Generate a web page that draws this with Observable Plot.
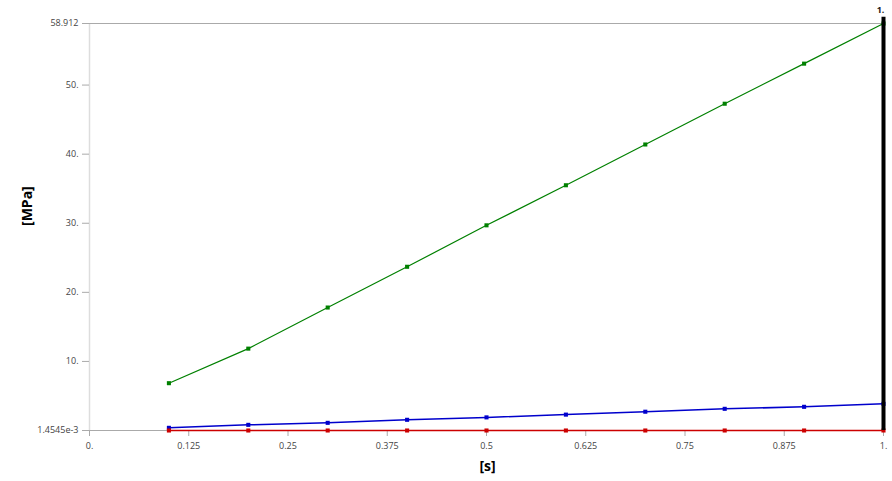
<!DOCTYPE html>
<html><head><meta charset="utf-8">
<script src="https://cdn.jsdelivr.net/npm/d3@7"></script>
<script src="https://cdn.jsdelivr.net/npm/@observablehq/plot@0.6"></script>
<style>body{margin:0;background:#fff;overflow:hidden}</style>
</head><body><div id="chart"></div>
<script>
const times = [0.1, 0.2, 0.3, 0.4, 0.5, 0.6, 0.7, 0.8, 0.9, 1.0];
const greenSeries = [6.85, 11.85, 17.8, 23.7, 29.7, 35.5, 41.4, 47.3, 53.1, 58.912];
const blueSeries = [0.39, 0.82, 1.11, 1.55, 1.9, 2.3, 2.72, 3.14, 3.43, 3.86];
const redSeries = [0.0014545, 0.0016, 0.0018, 0.002, 0.0022, 0.0024, 0.0026, 0.0028, 0.003, 0.0032];
const xTicks = [0, 0.125, 0.25, 0.375, 0.5, 0.625, 0.75, 0.875, 1];
const xTickLabels = ["0.", "0.125", "0.25", "0.375", "0.5", "0.625", "0.75", "0.875", "1."];
const yTicks = [0.0014545, 10, 20, 30, 40, 50, 58.912];
const yTickLabels = ["1.4545e-3", "10.", "20.", "30.", "40.", "50.", "58.912"];
const yMin = 0.0014545, yMax = 58.912;
const markerTime = [1];
const markerLabel = ["1."];

const series = [
  {name: "green", values: greenSeries, color: "#008000", width: 1.2},
  {name: "blue", values: blueSeries, color: "#0000cc", width: 1.5},
  {name: "red", values: redSeries, color: "#cc0000", width: 1.5}
];
const rows = series.flatMap(s => times.map((t, i) => ({t, v: s.values[i], name: s.name})));

const lineMarks = series.flatMap(s => {
  const d = rows.filter(r => r.name === s.name);
  return [
    Plot.line(d, {x: "t", y: "v", stroke: s.color, strokeWidth: s.width}),
    Plot.dot(d, {x: "t", y: "v", symbol: "square", r: 2.3, fill: s.color, stroke: "none"})
  ];
});

const chart = Plot.plot({
  width: 892,
  height: 481,
  marginLeft: 89,
  marginRight: 9,
  marginTop: 23,
  marginBottom: 51,
  style: {fontFamily: "'Open Sans', sans-serif", fontSize: "9px", background: "#fff"},
  x: {domain: [0, 1]},
  y: {domain: [yMin, yMax]},
  marks: [
    Plot.ruleX([0], {stroke: "#dddddd", strokeWidth: 1.5}),
    Plot.ruleY([yMin, yMax], {stroke: "#aaaaaa", strokeWidth: 1.2}),
    Plot.axisY(yTicks, {tickSize: 7, tickPadding: 4, stroke: "#aaaaaa", fill: "#444", label: null,
      tickFormat: d => yTickLabels[yTicks.indexOf(d)]}),
    Plot.axisX(xTicks, {tickSize: 6, tickPadding: 6, stroke: "#aaaaaa", fill: "#444", label: null,
      tickFormat: d => xTickLabels[xTicks.indexOf(d)]}),
    ...lineMarks,
    Plot.ruleX(markerTime, {y1: yMin, y2: 59.8, stroke: "#000", strokeWidth: 4}),
    Plot.text(markerLabel, {x: markerTime, y: [yMax], text: d => d, dy: -13, dx: -3, fontWeight: "bold", fill: "#222", fontSize: 9}),
    Plot.text(["[MPa]"], {frameAnchor: "left", dx: -61.5, dy: -1, rotate: -90, fontWeight: "bold", fontSize: 14, fill: "#000"}),
    Plot.text(["[s]"], {frameAnchor: "bottom", dy: 40, dx: 1, fontWeight: "bold", fontSize: 14, fill: "#000"})
  ]
});
document.getElementById("chart").appendChild(chart);
</script>
</body></html>
